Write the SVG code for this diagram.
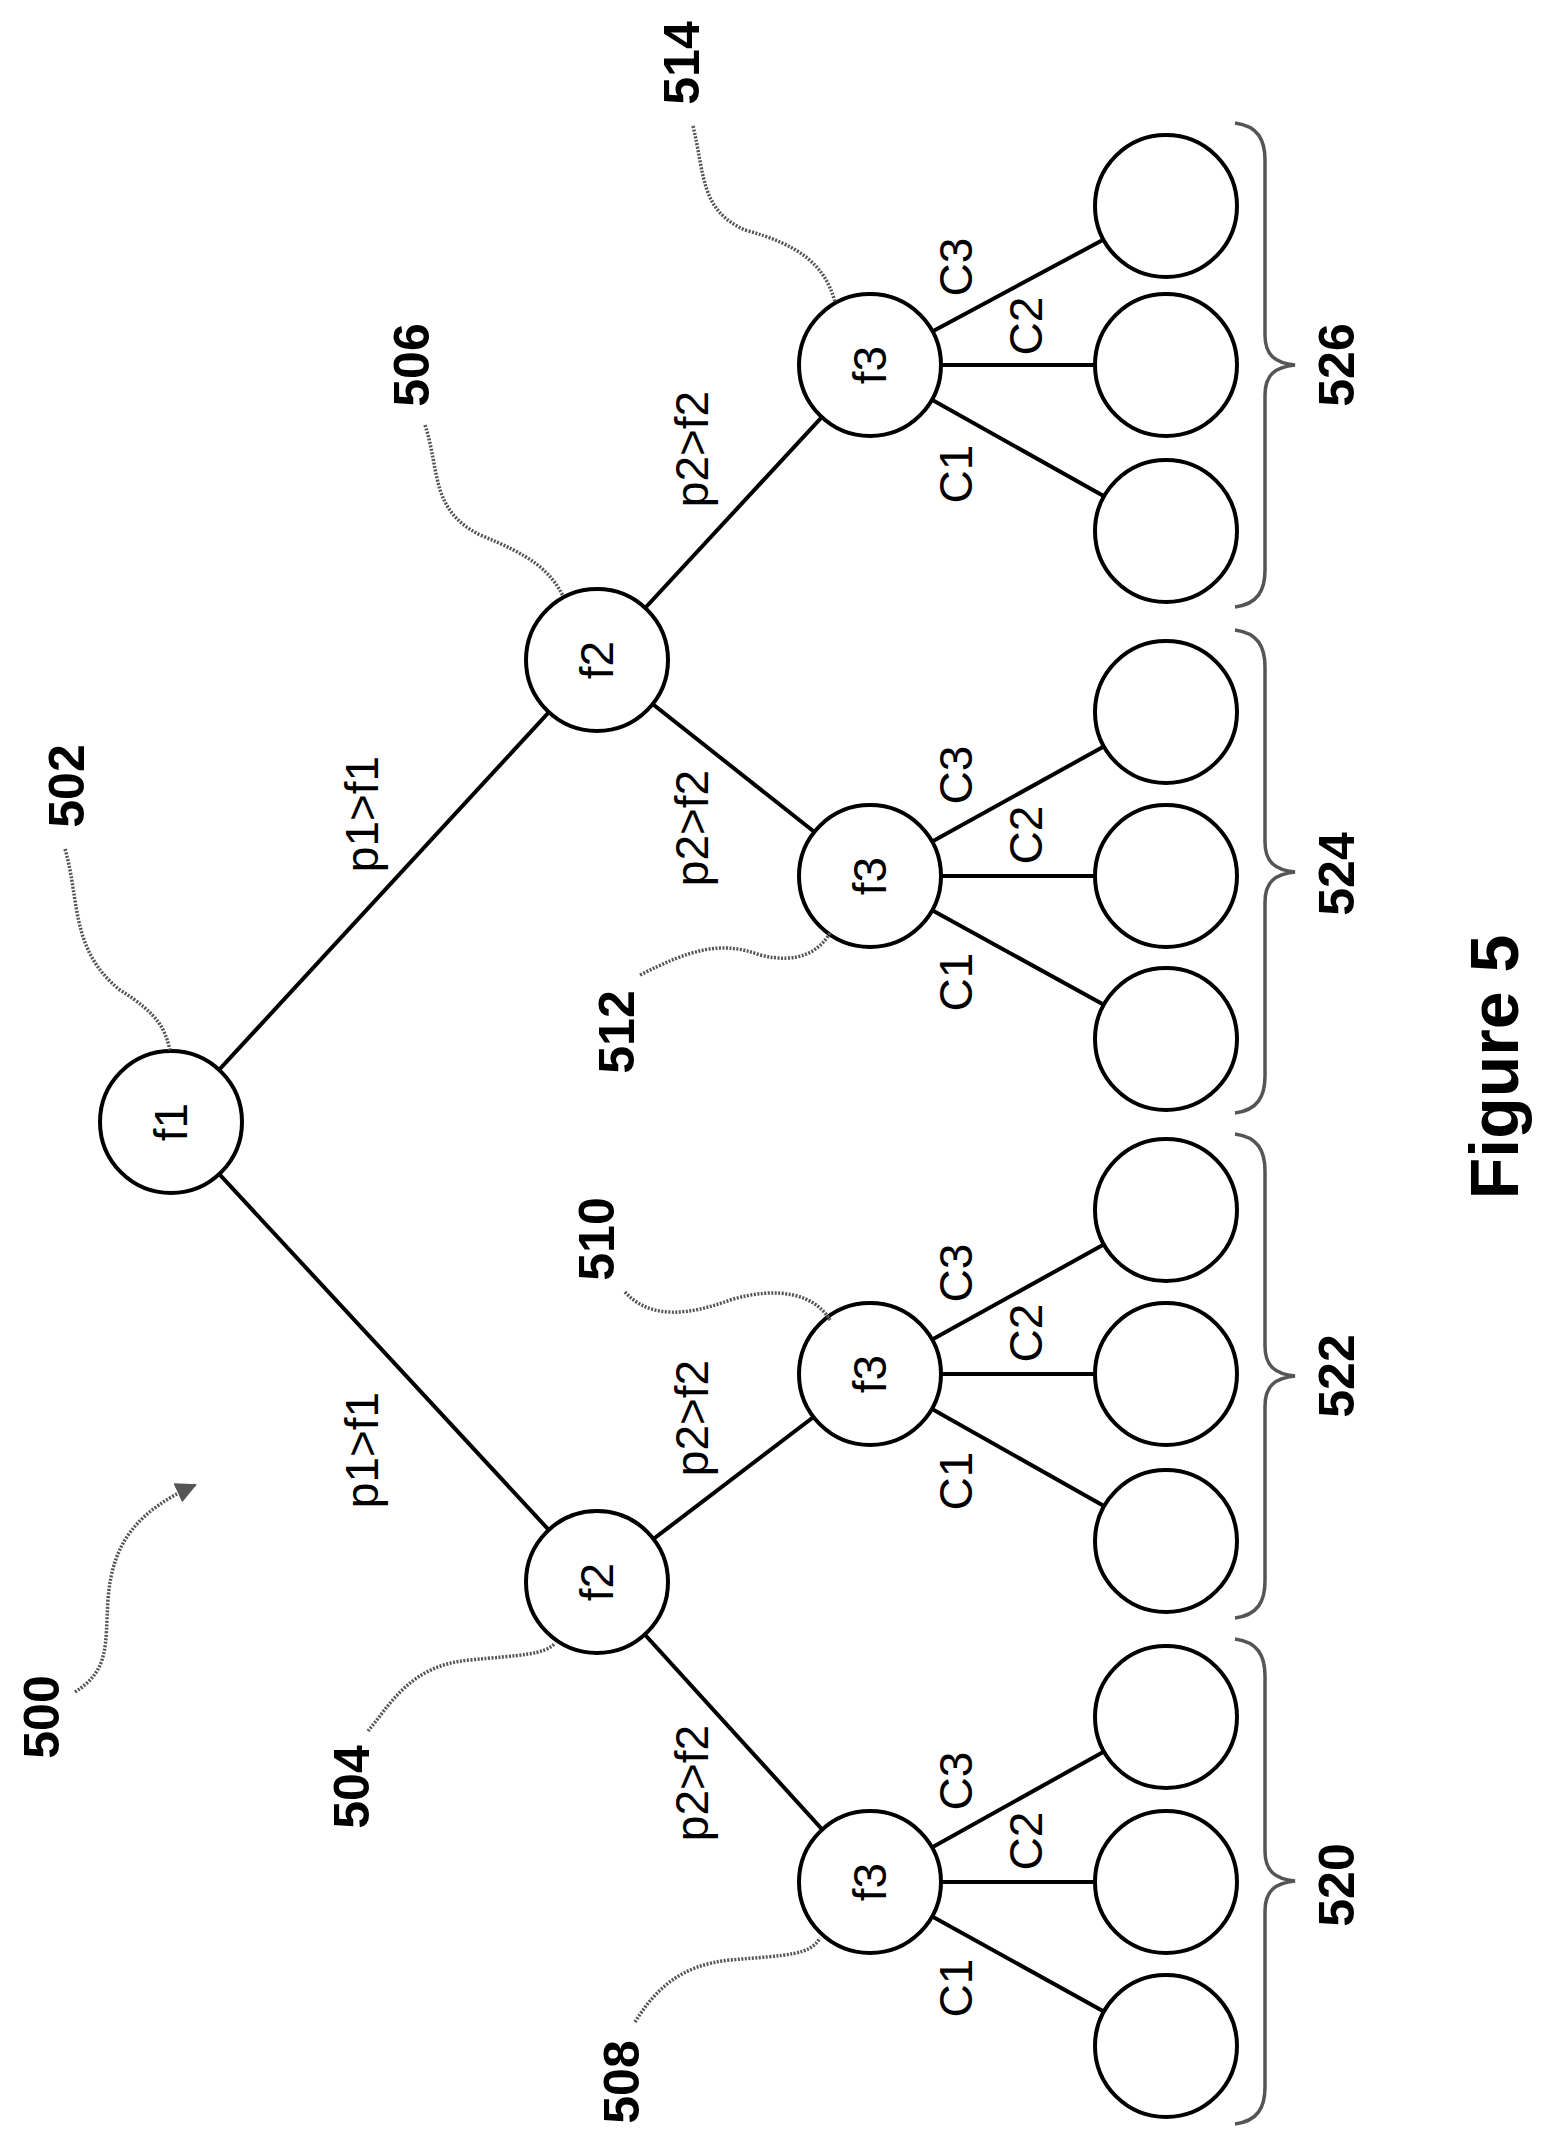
<svg xmlns="http://www.w3.org/2000/svg" width="1545" height="2137" viewBox="0 0 1545 2137">
<style>
.n{fill:#fff;stroke:#000;stroke-width:4}
.e{stroke:#000;stroke-width:4;fill:none}
.l{fill:none;stroke:#555;stroke-width:3.5;stroke-dasharray:2 1.5}
.b{fill:none;stroke:#555;stroke-width:3.5}
.t{font-family:"Liberation Sans",Arial,sans-serif;font-size:46px;fill:#000}
.r{font-family:"Liberation Sans",Arial,sans-serif;font-size:50px;font-weight:bold;fill:#000}
</style>
<defs><marker id="ah" viewBox="0 0 10 10" refX="9" refY="5" markerWidth="6" markerHeight="6" orient="auto"><path d="M0,0L10,5L0,10z" fill="#555"/></marker></defs>
<g id="connectors">
<line class="e" x1="171" y1="1122" x2="597" y2="660"/>
<line class="e" x1="171" y1="1122" x2="597" y2="1582"/>
<line class="e" x1="597" y1="660" x2="870" y2="365"/>
<line class="e" x1="597" y1="660" x2="870" y2="876"/>
<line class="e" x1="597" y1="1582" x2="870" y2="1374"/>
<line class="e" x1="597" y1="1582" x2="870" y2="1882"/>
<line class="e" x1="870" y1="365" x2="1166" y2="206"/><line class="e" x1="870" y1="365" x2="1166" y2="365"/><line class="e" x1="870" y1="365" x2="1166" y2="531"/>
<line class="e" x1="870" y1="876" x2="1166" y2="712"/><line class="e" x1="870" y1="876" x2="1166" y2="876"/><line class="e" x1="870" y1="876" x2="1166" y2="1039"/>
<line class="e" x1="870" y1="1374" x2="1166" y2="1210"/><line class="e" x1="870" y1="1374" x2="1166" y2="1374"/><line class="e" x1="870" y1="1374" x2="1166" y2="1541"/>
<line class="e" x1="870" y1="1882" x2="1166" y2="1717"/><line class="e" x1="870" y1="1882" x2="1166" y2="1882"/><line class="e" x1="870" y1="1882" x2="1166" y2="2046"/>
</g>
<g id="nodes">
<g id="n502"><circle class="n" cx="171" cy="1122" r="71"/><text class="t" transform="translate(187,1122) rotate(-90)" text-anchor="middle">f1</text></g>
<g id="n506"><circle class="n" cx="597" cy="660" r="71"/><text class="t" transform="translate(613,660) rotate(-90)" text-anchor="middle">f2</text></g>
<g id="n504"><circle class="n" cx="597" cy="1582" r="71"/><text class="t" transform="translate(613,1582) rotate(-90)" text-anchor="middle">f2</text></g>
<g id="n514"><circle class="n" cx="870" cy="365" r="71"/><text class="t" transform="translate(886,365) rotate(-90)" text-anchor="middle">f3</text></g>
<g id="n512"><circle class="n" cx="870" cy="876" r="71"/><text class="t" transform="translate(886,876) rotate(-90)" text-anchor="middle">f3</text></g>
<g id="n510"><circle class="n" cx="870" cy="1374" r="71"/><text class="t" transform="translate(886,1374) rotate(-90)" text-anchor="middle">f3</text></g>
<g id="n508"><circle class="n" cx="870" cy="1882" r="71"/><text class="t" transform="translate(886,1882) rotate(-90)" text-anchor="middle">f3</text></g>
<g id="leaves">
<circle class="n" cx="1166" cy="206" r="71"/><circle class="n" cx="1166" cy="365" r="71"/><circle class="n" cx="1166" cy="531" r="71"/>
<circle class="n" cx="1166" cy="712" r="71"/><circle class="n" cx="1166" cy="876" r="71"/><circle class="n" cx="1166" cy="1039" r="71"/>
<circle class="n" cx="1166" cy="1210" r="71"/><circle class="n" cx="1166" cy="1374" r="71"/><circle class="n" cx="1166" cy="1541" r="71"/>
<circle class="n" cx="1166" cy="1717" r="71"/><circle class="n" cx="1166" cy="1882" r="71"/><circle class="n" cx="1166" cy="2046" r="71"/>
</g>
</g>
<g id="edge-labels" class="t" text-anchor="middle">
<text transform="translate(378,814) rotate(-90)">p1&gt;f1</text>
<text transform="translate(378,1450) rotate(-90)">p1&gt;f1</text>
<text transform="translate(708,449) rotate(-90)">p2&gt;f2</text>
<text transform="translate(708,828) rotate(-90)">p2&gt;f2</text>
<text transform="translate(708,1418) rotate(-90)">p2&gt;f2</text>
<text transform="translate(708,1783) rotate(-90)">p2&gt;f2</text>
<text transform="translate(972,267) rotate(-90)">C3</text><text transform="translate(1042,326) rotate(-90)">C2</text><text transform="translate(972,474) rotate(-90)">C1</text>
<text transform="translate(972,775) rotate(-90)">C3</text><text transform="translate(1042,835) rotate(-90)">C2</text><text transform="translate(972,982) rotate(-90)">C1</text>
<text transform="translate(972,1273) rotate(-90)">C3</text><text transform="translate(1042,1333) rotate(-90)">C2</text><text transform="translate(972,1481) rotate(-90)">C1</text>
<text transform="translate(972,1781) rotate(-90)">C3</text><text transform="translate(1042,1841) rotate(-90)">C2</text><text transform="translate(972,1988) rotate(-90)">C1</text>
</g>
<g id="leaders">
<path class="l" d="M65,849 C80,900 70,950 120,990 C160,1015 165,1030 170,1050"/>
<path class="l" d="M425,425 C440,470 430,510 480,535 C530,555 550,570 563,596"/>
<path class="l" d="M693,126 C705,175 700,210 745,230 C800,245 825,265 835,302"/>
<path class="l" d="M640,975 C690,950 720,940 760,955 C800,965 820,950 830,933"/>
<path class="l" d="M625,1292 C650,1320 690,1315 730,1300 C780,1285 815,1295 830,1320"/>
<path class="l" d="M368,1731 C390,1705 410,1665 470,1660 C520,1655 545,1655 555,1643"/>
<path class="l" d="M635,2022 C655,1990 680,1965 730,1960 C790,1955 810,1955 820,1938"/>
<path class="l" d="M75,1692 C110,1670 105,1645 108,1600 C112,1540 140,1510 195,1485" marker-end="url(#ah)"/>
</g>
<g id="braces">
<path class="b" d="M1235,123 C1258,126 1265,140 1265,160 L1265,335 C1265,355 1275,363 1295,365 C1275,367 1265,375 1265,395 L1265,570 C1265,590 1258,604 1235,607"/>
<path class="b" d="M1235,630 C1258,633 1265,647 1265,667 L1265,842 C1265,862 1275,870 1295,872 C1275,874 1265,882 1265,902 L1265,1076 C1265,1096 1258,1110 1235,1113"/>
<path class="b" d="M1235,1134 C1258,1137 1265,1151 1265,1171 L1265,1346 C1265,1366 1275,1374 1295,1376 C1275,1378 1265,1386 1265,1406 L1265,1581 C1265,1601 1258,1615 1235,1618"/>
<path class="b" d="M1235,1639 C1258,1642 1265,1656 1265,1676 L1265,1851 C1265,1871 1275,1879 1295,1881 C1275,1883 1265,1891 1265,1911 L1265,2087 C1265,2107 1258,2121 1235,2124"/>
</g>
<g id="refs" class="r" text-anchor="middle">
<text transform="translate(699,63) rotate(-90)">514</text>
<text transform="translate(429,365) rotate(-90)">506</text>
<text transform="translate(84,786) rotate(-90)">502</text>
<text transform="translate(1354,365) rotate(-90)">526</text>
<text transform="translate(1354,874) rotate(-90)">524</text>
<text transform="translate(634,1032) rotate(-90)">512</text>
<text transform="translate(614,1239) rotate(-90)">510</text>
<text transform="translate(59,1717) rotate(-90)">500</text>
<text transform="translate(369,1787) rotate(-90)">504</text>
<text transform="translate(1354,1376) rotate(-90)">522</text>
<text transform="translate(1354,1885) rotate(-90)">520</text>
<text transform="translate(639,2082) rotate(-90)">508</text>
<text transform="translate(1518,1067) rotate(-90)" style="font-size:68px">Figure 5</text>
</g>
</svg>
